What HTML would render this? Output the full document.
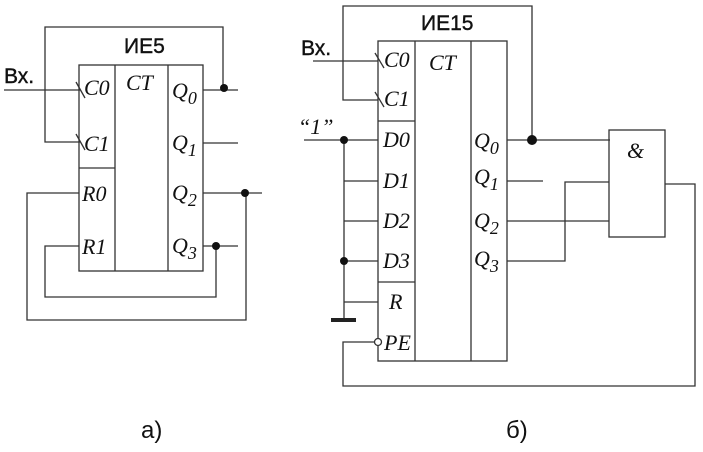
<!DOCTYPE html><html><head><style>body{margin:0;background:#fff}svg{display:block}</style></head><body>
<svg width="703" height="452" xmlns="http://www.w3.org/2000/svg">
<g stroke="#333" stroke-width="1.3" fill="none">
<rect x="79" y="65" width="124" height="206"/>
<line x1="115" y1="65" x2="115" y2="271"/><line x1="168" y1="65" x2="168" y2="271"/>
<line x1="79" y1="168" x2="115" y2="168"/>
<polyline points="80,142 45,142 45,27 223,27 223,90"/>
<line x1="4" y1="90" x2="80" y2="90"/>
<line x1="76" y1="82" x2="85" y2="98"/><line x1="76" y1="134" x2="85" y2="150"/>
<line x1="203" y1="90" x2="238" y2="90"/><line x1="203" y1="143" x2="238" y2="143"/>
<line x1="203" y1="193" x2="262" y2="193"/><line x1="203" y1="246" x2="238" y2="246"/>
<polyline points="79,193 27,193 27,320 246,320 246,193"/>
<polyline points="79,246 45,246 45,297 216,297 216,246"/>

<rect x="378" y="41" width="129" height="320"/>
<line x1="415" y1="41" x2="415" y2="361"/><line x1="471" y1="41" x2="471" y2="361"/>
<line x1="378" y1="121" x2="415" y2="121"/><line x1="378" y1="282" x2="415" y2="282"/>
<polyline points="378,100 343,100 343,6 532,6 532,140"/>
<line x1="313" y1="61" x2="378" y2="61"/>
<line x1="375" y1="53" x2="384" y2="68"/><line x1="375" y1="92" x2="384" y2="107"/>
<line x1="304" y1="140" x2="378" y2="140"/>
<line x1="344" y1="181" x2="378" y2="181"/><line x1="344" y1="221" x2="378" y2="221"/><line x1="344" y1="261" x2="378" y2="261"/>
<line x1="344" y1="140" x2="344" y2="320"/><line x1="344" y1="302" x2="378" y2="302"/>
<polyline points="375,342 343,342 343,386 695,386 695,184 665,184"/>
<line x1="507" y1="140" x2="610" y2="140"/><line x1="507" y1="181" x2="543" y2="181"/>
<line x1="507" y1="221" x2="609" y2="221"/>
<polyline points="507,261 565,261 565,182 609,182"/>
<rect x="609" y="130" width="56" height="107"/>
<circle cx="378" cy="342" r="3.5" fill="#fff"/>
</g>
<line x1="331" y1="320" x2="356" y2="320" stroke="#222" stroke-width="4"/>
<g fill="#111"><circle cx="224" cy="88" r="4"/><circle cx="245" cy="193" r="4"/><circle cx="216" cy="246" r="4"/>
<circle cx="532" cy="140" r="5"/><circle cx="344" cy="140" r="4"/><circle cx="344" cy="261" r="4"/></g>
<g font-family="Liberation Sans, sans-serif" font-size="21" fill="#111" stroke="#111" stroke-width="0.4">
<text x="124" y="53">ИЕ5</text><text x="4" y="83">Вх.</text>
<text x="421" y="30">ИЕ15</text><text x="301" y="55">Вх.</text>
<text x="141" y="438" font-size="24" stroke="none">а)</text><text x="506" y="438" font-size="24" stroke="none">б)</text>
</g>
<g font-family="Liberation Serif, serif" font-style="italic" font-size="22" fill="#111">
<text x="84" y="95">C0</text><text x="84" y="151">C1</text><text x="126" y="90">CT</text>
<text x="82" y="201">R0</text><text x="82" y="254">R1</text>
<text x="172" y="98">Q<tspan font-size="18" dy="6">0</tspan></text>
<text x="172" y="150">Q<tspan font-size="18" dy="6">1</tspan></text>
<text x="172" y="200">Q<tspan font-size="18" dy="6">2</tspan></text>
<text x="172" y="253">Q<tspan font-size="18" dy="6">3</tspan></text>
<text x="384" y="67">C0</text><text x="384" y="106">C1</text><text x="429" y="70">CT</text>
<text x="383" y="147">D0</text><text x="383" y="188">D1</text><text x="383" y="228">D2</text><text x="383" y="268">D3</text>
<text x="389" y="309">R</text><text x="384" y="350">PE</text>
<text x="474" y="148">Q<tspan font-size="18" dy="6">0</tspan></text>
<text x="474" y="184">Q<tspan font-size="18" dy="6">1</tspan></text>
<text x="474" y="228">Q<tspan font-size="18" dy="6">2</tspan></text>
<text x="474" y="266">Q<tspan font-size="18" dy="6">3</tspan></text>
<text x="298" y="134">“1”</text>
<text x="627" y="158">&amp;</text>
</g>
</svg></body></html>
